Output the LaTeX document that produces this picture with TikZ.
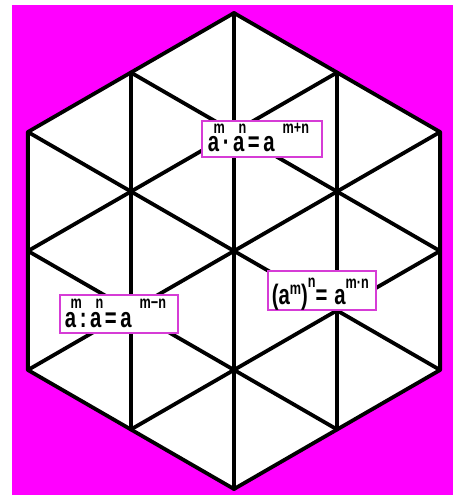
\documentclass[tikz,border=0pt]{standalone}
\usepackage{fontspec}
\setmainfont{Liberation Sans}
\usepackage{graphicx}

\definecolor{bgpink}{RGB}{255,0,255}
\definecolor{framepink}{RGB}{214,60,214}

% exponents: raised beside the base, or hanging over it
\newcommand{\expfont}{\fontsize{12.5}{12.5}\selectfont}
\newcommand{\up}[2][13.5pt]{\raisebox{#1}{\expfont #2}}
\newcommand{\upover}[1]{\rlap{\hspace{-5.6pt}\raisebox{13.5pt}{\expfont #1}}}
\newcommand{\gap}{\hspace{3.5pt}}

\begin{document}
\begin{tikzpicture}[x=0.025cm, y=0.025cm,
	grid/.style={line width=2.7pt, line cap=round, line join=round},
	rule/.style={draw=framepink, line width=1.8pt, fill=white, inner ysep=0pt, text depth=0pt, align=left, font=\bfseries\fontsize{20}{20}\selectfont}]
	\useasboundingbox (-234,-246) rectangle (219,251);
	\fill[bgpink] (-222,-244) rectangle (219,246);
	% hexagon and its triangles
	\fill[white] (30:238) -- (90:238) -- (150:238) -- (210:238) -- (270:238) -- (330:238) -- cycle;
	\foreach \a in {30,90,150}
		\draw[grid] (\a:238) -- (\a+180:238);
	\foreach \a in {0,60,...,300}
		\draw[grid] (\a:206) -- (\a+120:206);
	\draw[grid] (30:238) -- (90:238) -- (150:238) -- (210:238) -- (270:238) -- (330:238) -- cycle;
	% the three rules
	\node[rule, minimum width=3cm, minimum height=0.9cm, inner xsep=0.15cm, text width=2.7cm, text height=0.65cm] (prod) at (28,112)
		{\scalebox{0.72}[1]{a\upover{m}\gap·\gap a\upover{n}\gap=\gap a\hspace{8pt}\up{m+n}}};
	\node[rule, minimum width=2.95cm, minimum height=0.95cm, inner xsep=0.125cm, text width=2.7cm, text height=0.65cm] (quot) at (-115,-63)
		{\scalebox{0.72}[1]{a\upover{m}\gap:\gap a\upover{n}\gap=\gap a\hspace{8pt}\up{m−n}}};
	\node[rule, minimum width=2.7cm, minimum height=0.975cm, inner xsep=0.1cm, text width=2.5cm, text height=0.675cm] (pow) at (88,-39.5)
		{\scalebox{0.72}[1]{(a\up[6.5pt]{m})\up[12pt]{n}= a\up[10.8pt]{m·n}}};
\end{tikzpicture}
\end{document}
